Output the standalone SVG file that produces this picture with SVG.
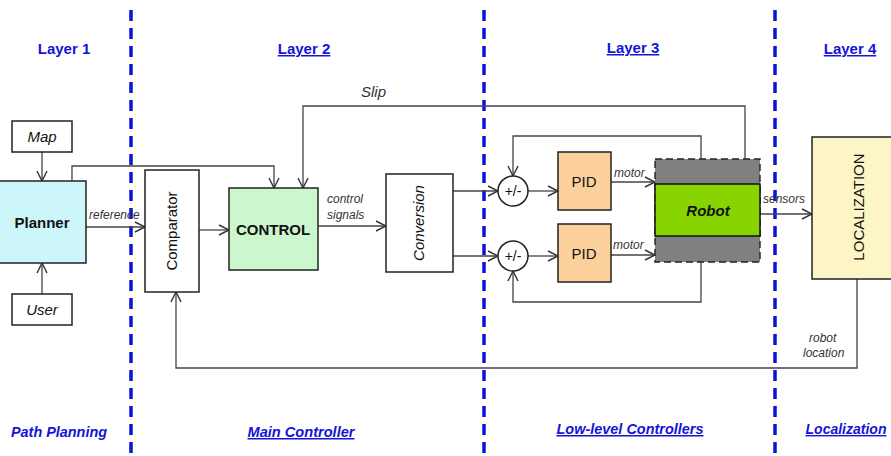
<svg xmlns="http://www.w3.org/2000/svg" width="891" height="456" viewBox="0 0 891 456">
<defs>
<marker id="ah" viewBox="0 0 12 12" refX="11" refY="6" markerWidth="12" markerHeight="12" markerUnits="userSpaceOnUse" orient="auto">
<path d="M1,1 L11,6 L1,11" fill="none" stroke="#333" stroke-width="1.4"/>
</marker>
<style>
.sep{stroke:#0a14d8;stroke-width:3.5;stroke-dasharray:11 7;fill:none}
.lay{font-family:"Liberation Sans",Arial,sans-serif;font-weight:bold;font-size:15px;fill:#1414d8;text-anchor:middle}
.bot{font-family:"Liberation Sans",Arial,sans-serif;font-weight:bold;font-style:italic;font-size:15px;fill:#1414d8;text-anchor:middle}
.ul{text-decoration:underline}
.box{stroke:#222;stroke-width:1.5}
.ln{fill:none;stroke:#444;stroke-width:1.3}
.arr{fill:none;stroke:#444;stroke-width:1.3;marker-end:url(#ah)}
.t{font-family:"Liberation Sans",Arial,sans-serif;fill:#111;text-anchor:middle}
.lbl{font-family:"Liberation Sans",Arial,sans-serif;font-style:italic;font-size:12px;fill:#333}
</style>
</defs>
<rect width="891" height="456" fill="#fff"/>
<g id="separators">
<line class="sep" x1="131" y1="10" x2="131" y2="456"/>
<line class="sep" x1="484" y1="10" x2="484" y2="456"/>
<line class="sep" x1="775" y1="10" x2="775" y2="456"/>
</g>
<g id="layer-labels">
<text class="lay" x="64" y="54">Layer 1</text>
<text class="lay ul" x="304" y="54">Layer 2</text>
<text class="lay ul" x="633" y="53">Layer 3</text>
<text class="lay ul" x="850" y="54">Layer 4</text>
<text class="bot" x="59" y="437" textLength="96" lengthAdjust="spacingAndGlyphs">Path Planning</text>
<text class="bot ul" x="301" y="437" textLength="107" lengthAdjust="spacingAndGlyphs">Main Controller</text>
<text class="bot ul" x="630" y="434" textLength="147" lengthAdjust="spacingAndGlyphs">Low-level Controllers</text>
<text class="bot ul" x="846" y="434" style="font-size:14px">Localization</text>
</g>
<g id="connectors">
<line class="arr" x1="42" y1="152" x2="42" y2="181"/>
<line class="arr" x1="42" y1="294" x2="42" y2="263"/>
<polyline class="arr" points="72,181 72,166 274,166 274,188"/>
<line class="arr" x1="86" y1="227" x2="145" y2="227"/>
<line class="arr" x1="199" y1="230" x2="229" y2="230"/>
<polyline class="arr" points="745,159 745,106 303,106 303,188"/>
<line class="arr" x1="318" y1="226" x2="386" y2="226"/>
<line class="arr" x1="453" y1="191" x2="498" y2="191"/>
<line class="arr" x1="453" y1="256" x2="498" y2="256"/>
<line class="arr" x1="528" y1="191" x2="558" y2="191"/>
<line class="arr" x1="528" y1="256" x2="558" y2="256"/>
<line class="arr" x1="611" y1="182" x2="655" y2="182"/>
<line class="arr" x1="611" y1="255" x2="655" y2="255"/>
<polyline class="arr" points="701,159 701,136 513,136 513,176"/>
<polyline class="arr" points="701,262 701,302 513,302 513,271"/>
<line class="arr" x1="757" y1="214" x2="812" y2="214"/>
<polyline class="arr" points="857,279 857,368 176,368 176,292"/>
</g>
<g id="connector-labels">
<text class="lbl" x="89" y="219">reference</text>
<text class="lbl" x="361" y="97" style="font-size:15px">Slip</text>
<text class="lbl" x="327" y="203">control</text>
<text class="lbl" x="327" y="219">signals</text>
<text class="lbl" x="614" y="177">motor</text>
<text class="lbl" x="613" y="249">motor</text>
<text class="lbl" x="763" y="203">sensors</text>
<text class="lbl" x="809" y="342">robot</text>
<text class="lbl" x="803" y="357">location</text>
</g>
<g id="map">
<rect class="box" x="12" y="121" width="60" height="31" fill="#fff"/>
<text class="t" x="42" y="142" font-size="15" font-style="italic">Map</text>
</g>
<g id="user">
<rect class="box" x="12" y="294" width="60" height="31" fill="#fff"/>
<text class="t" x="42" y="315" font-size="15" font-style="italic">User</text>
</g>
<g id="planner">
<rect class="box" x="-1" y="181" width="87" height="82" fill="#ccf6fa"/>
<text class="t" x="42" y="228" font-size="15" font-weight="bold">Planner</text>
</g>
<g id="comparator">
<rect class="box" x="145" y="170" width="54" height="122" fill="#fff"/>
<text class="t" x="0" y="0" font-size="15" transform="translate(177,231) rotate(-90)">Comparator</text>
</g>
<g id="control">
<rect class="box" x="229" y="188" width="89" height="82" fill="#ccf6cc"/>
<text class="t" x="273" y="235" font-size="15" font-weight="bold">CONTROL</text>
</g>
<g id="conversion">
<rect class="box" x="386" y="174" width="67" height="98" fill="#fff"/>
<text class="t" x="0" y="0" font-size="15" font-style="italic" transform="translate(424,223) rotate(-90)">Conversion</text>
</g>
<g id="sum1">
<circle class="box" cx="513" cy="191" r="15" fill="#fff" stroke-width="1.2"/>
<text class="t" x="513" y="196" font-size="14">+/-</text>
</g>
<g id="sum2">
<circle class="box" cx="513" cy="256" r="15" fill="#fff" stroke-width="1.2"/>
<text class="t" x="513" y="261" font-size="14">+/-</text>
</g>
<g id="pid1">
<rect class="box" x="558" y="152" width="53" height="58" fill="#fbd09a"/>
<text class="t" x="584" y="187" font-size="15">PID</text>
</g>
<g id="pid2">
<rect class="box" x="558" y="224" width="53" height="58" fill="#fbd09a"/>
<text class="t" x="584" y="259" font-size="15">PID</text>
</g>
<g id="robot">
<rect x="655" y="159" width="105" height="103" fill="#808080" stroke="#222" stroke-width="1.4" stroke-dasharray="7 4"/>
<rect x="655" y="184" width="105" height="52" fill="#88d400" stroke="#111" stroke-width="1.5"/>
<text class="t" x="708" y="216" font-size="15" font-weight="bold" font-style="italic">Robot</text>
</g>
<g id="localization">
<rect class="box" x="812" y="137" width="82" height="142" fill="#fdf5c6"/>
<text class="t" x="0" y="0" font-size="15" transform="translate(864,207) rotate(-90)">LOCALIZATION</text>
</g>
</svg>
